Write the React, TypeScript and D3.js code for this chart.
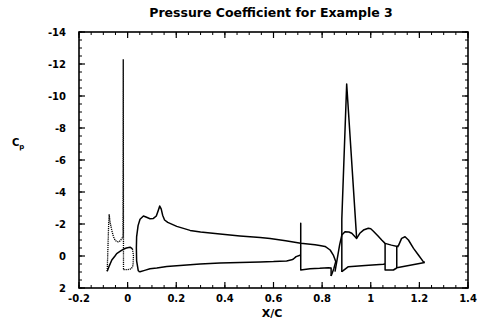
import React from "react";
import * as d3 from "d3";

const title = "Pressure Coefficient for Example 3";
const xTicks = [-0.2, 0, 0.2, 0.4, 0.6, 0.8, 1, 1.2, 1.4];
const yTicks = [-14, -12, -10, -8, -6, -4, -2, 0, 2];

type P = [number, number];

// Slat
const slatUpper: P[] = [[-0.084,0.95],[-0.081,-0.5],[-0.078,-2.0],[-0.076,-2.6],[-0.072,-2.1],[-0.065,-1.6],[-0.058,-1.2],[-0.052,-1.0],[-0.045,-0.9],[-0.038,-0.88],[-0.03,-0.95],[-0.024,-1.1],[-0.019,-1.2]];
const slatSpike: P[] = [[-0.019,-1.2],[-0.018,-12.3],[-0.017,0.85]];
const slatCove: P[] = [[-0.017,0.85],[0.0,0.85],[0.015,0.8],[0.022,0.6],[0.024,0.0],[0.02,-0.45]];
const slatLower: P[] = [[-0.084,0.95],[-0.075,0.6],[-0.065,0.25],[-0.052,0.0],[-0.045,-0.15],[-0.03,-0.3],[-0.018,-0.42],[-0.005,-0.5],[0.01,-0.55],[0.02,-0.45]];

// Main element
const mainUpper: P[] = [[0.044,0.95],[0.037,0.3],[0.036,-0.5],[0.037,-1.2],[0.043,-1.9],[0.051,-2.3],[0.065,-2.5],[0.078,-2.42],[0.092,-2.33],[0.106,-2.35],[0.118,-2.5],[0.126,-2.85],[0.132,-3.12],[0.138,-2.95],[0.144,-2.55],[0.152,-2.25],[0.165,-2.1],[0.202,-1.85],[0.257,-1.6],[0.3,-1.5],[0.38,-1.37],[0.462,-1.25],[0.545,-1.15],[0.586,-1.1],[0.65,-0.95],[0.712,-0.79],[0.771,-0.7],[0.79,-0.66],[0.812,-0.6],[0.833,-0.375],[0.846,-0.06],[0.856,0.35],[0.848,0.8],[0.837,1.25]];
const mainLower: P[] = [[0.044,0.95],[0.051,0.98],[0.07,0.9],[0.092,0.8],[0.12,0.75],[0.161,0.66],[0.188,0.62],[0.257,0.55],[0.298,0.5],[0.38,0.44],[0.462,0.4],[0.545,0.37],[0.6,0.35],[0.654,0.31],[0.675,0.24],[0.682,0.19],[0.693,0.04],[0.712,-0.06]];
const mainCove: P[] = [[0.712,-0.06],[0.712,-2.04],[0.712,0.875],[0.75,0.8],[0.79,0.77],[0.826,0.73],[0.837,0.75],[0.837,1.25]];

// Flap 1
const flap1Upper: P[] = [[0.853,0.98],[0.862,0.2],[0.872,-0.7],[0.881,-1.31],[0.894,-1.52],[0.91,-1.5],[0.922,-1.42],[0.942,-1.1],[0.955,-1.42],[0.97,-1.62],[0.99,-1.73],[1.0,-1.7],[1.011,-1.55],[1.03,-1.25],[1.045,-1.0],[1.059,-0.79],[1.085,-0.68],[1.114,-0.58]];
const flap1Spike: P[] = [[0.881,1.0],[0.881,-2.3],[0.901,-10.75],[0.942,-1.1]];
const flap1Lower: P[] = [[0.881,0.98],[0.908,0.67],[0.977,0.6],[1.052,0.52],[1.059,0.5]];
const flap1Te: P[] = [[1.059,-0.79],[1.059,0.875],[1.093,0.875],[1.107,0.75]];

// Flap 2
const flap2Upper: P[] = [[1.107,0.75],[1.107,-0.58],[1.114,-0.65],[1.127,-1.1],[1.141,-1.2],[1.155,-1.0],[1.176,-0.48],[1.196,-0.06],[1.216,0.35],[1.222,0.4]];
const flap2Lower: P[] = [[1.222,0.4],[1.107,0.73]];

const solidCurves = [slatLower, mainUpper, mainLower, mainCove, flap1Upper, flap1Spike, flap1Lower, flap1Te, flap2Upper, flap2Lower];
const dottedCurves = [slatUpper, slatSpike, slatCove];

const W = 480, H = 323;
const L = 79, R = 468, T = 32, B = 288;
const FONT = "'DejaVu Sans', Verdana, sans-serif";

export default function App() {
  const x = d3.scaleLinear().domain([-0.2, 1.4]).range([L, R]);
  const y = d3.scaleLinear().domain([2, -14]).range([B, T]);
  const line = d3.line<P>().x(d => x(d[0])).y(d => y(d[1]));

  const xMinor = d3.range(-0.2, 1.4001, 0.05);
  const yMinor = d3.range(-14, 2.001, 0.5);

  return (
    <svg width={W} height={H} style={{ position: "absolute", left: 0, top: 0, background: "#fff" }}>
      <rect x={0} y={0} width={W} height={H} fill="#fff" />
      <text x={271} y={17} textAnchor="middle" fontFamily={FONT} fontWeight="bold" fontSize={12.5}>{title}</text>

      {solidCurves.map((c, i) => (
        <path key={"s" + i} d={line(c) || ""} fill="none" stroke="#000" strokeWidth={1.5} strokeLinejoin="round" />
      ))}
      {dottedCurves.map((c, i) => (
        <path key={"d" + i} d={line(c) || ""} fill="none" stroke="#000" strokeWidth={1.3} strokeDasharray="1.2 0.9" />
      ))}

      {/* minor ticks */}
      {xMinor.map((v, i) => (
        <g key={"xm" + i}>
          <line x1={x(v)} x2={x(v)} y1={B} y2={B - 3} stroke="#000" strokeWidth={1} />
          <line x1={x(v)} x2={x(v)} y1={T} y2={T + 3} stroke="#000" strokeWidth={1} />
        </g>
      ))}
      {yMinor.map((v, i) => (
        <g key={"ym" + i}>
          <line x1={L} x2={L + 3} y1={y(v)} y2={y(v)} stroke="#000" strokeWidth={1} />
          <line x1={R} x2={R - 3} y1={y(v)} y2={y(v)} stroke="#000" strokeWidth={1} />
        </g>
      ))}
      {/* major ticks + labels */}
      {xTicks.map((v, i) => (
        <g key={"xt" + i}>
          <line x1={x(v)} x2={x(v)} y1={B} y2={B - 6} stroke="#000" strokeWidth={1.2} />
          <line x1={x(v)} x2={x(v)} y1={T} y2={T + 6} stroke="#000" strokeWidth={1.2} />
          <text x={x(v)} y={302} textAnchor="middle" fontFamily={FONT} fontWeight="bold" fontSize={10}>{String(v)}</text>
        </g>
      ))}
      {yTicks.map((v, i) => (
        <g key={"yt" + i}>
          <line x1={L} x2={L + 6} y1={y(v)} y2={y(v)} stroke="#000" strokeWidth={1.2} />
          <line x1={R} x2={R - 6} y1={y(v)} y2={y(v)} stroke="#000" strokeWidth={1.2} />
          <text x={66} y={y(v) + 3.5} textAnchor="end" fontFamily={FONT} fontWeight="bold" fontSize={10}>{String(v)}</text>
        </g>
      ))}
      <rect x={L} y={T} width={R - L} height={B - T} fill="none" stroke="#000" strokeWidth={1.6} />

      <text x={272} y={317} textAnchor="middle" fontFamily={FONT} fontWeight="bold" fontSize={11}>X/C</text>
      <text x={12} y={146} fontFamily={FONT} fontWeight="bold" fontSize={10}>C<tspan fontSize={7} dy={3}>p</tspan></text>
    </svg>
  );
}
